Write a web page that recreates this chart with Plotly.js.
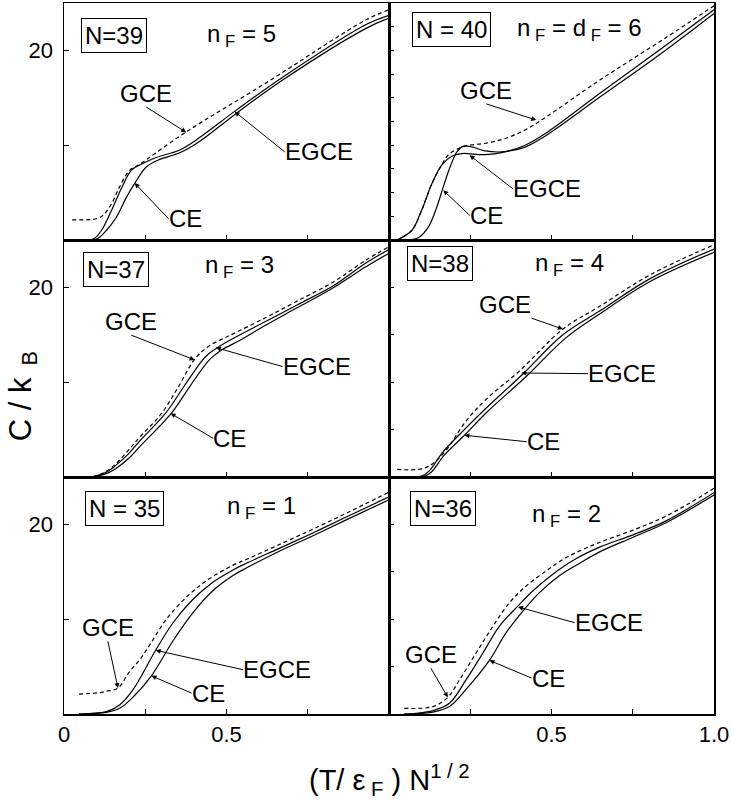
<!DOCTYPE html>
<html>
<head>
<meta charset="utf-8">
<script src="https://cdn.plot.ly/plotly-3.0.1.min.js"></script>
<style>
  html, body { margin: 0; padding: 0; background: #fff; }
  #chart { width: 732px; height: 805px; }
</style>
</head>
<body>
<div id="chart"></div>
<script>
// C/kB against (T/eF) N^1/2
// N = 39, nF = 5
let tGce39 = [0.025, 0.1, 0.12, 0.146, 0.171, 0.202, 0.233, 0.376, 0.623, 0.928, 1.0];
let cGce39 = [2.13, 2.24, 2.6, 3.8, 5.6, 7.35, 8.0, 11.4, 16.6, 23.2, 24.3];
let tEgce39 = [0.025, 0.09, 0.115, 0.146, 0.176, 0.207, 0.238, 0.284, 0.356, 0.417, 0.53, 0.674, 0.928, 1.0];
let cEgce39 = [0, 0.1, 1.0, 3.1, 5.4, 7.35, 8.0, 8.7, 9.5, 10.8, 13.7, 17.2, 22.7, 23.7];
let tCe39 = [0.025, 0.1, 0.13, 0.161, 0.192, 0.217, 0.253, 0.294, 0.356, 0.417, 0.53, 0.674, 0.928, 1.0];
let cCe39 = [0, 0.1, 1.0, 2.4, 4.5, 5.94, 7.7, 8.5, 9.2, 10.4, 13.35, 16.9, 22.3, 23.4];

// N = 40, nF = dF = 6
let tGce40 = [0.025, 0.07, 0.1, 0.132, 0.162, 0.183, 0.234, 0.296, 0.357, 0.419, 0.48, 0.65, 0.85, 1.0];
let cGce40 = [0, 1.0, 3.1, 5.95, 7.9, 9.0, 9.9, 10.2, 10.7, 11.6, 12.9, 16.9, 21.3, 24.7];
let tEgce40 = [0.025, 0.07, 0.1, 0.132, 0.162, 0.193, 0.224, 0.296, 0.357, 0.419, 0.48, 0.65, 0.85, 1.0];
let cEgce40 = [0, 1.0, 3.1, 5.95, 7.9, 8.84, 9.12, 9.0, 9.3, 10.0, 11.2, 15.5, 20.5, 24.3];
let tCe40 = [0.025, 0.09, 0.121, 0.147, 0.167, 0.188, 0.209, 0.229, 0.255, 0.296, 0.347, 0.419, 0.48, 0.65, 0.85, 1.0];
let cCe40 = [0, 0.23, 1.35, 3.47, 5.6, 7.7, 9.3, 9.9, 9.82, 9.4, 9.3, 9.8, 10.95, 15.1, 20.0, 23.9];

// N = 37, nF = 3
let tGce37 = [0.025, 0.09, 0.13, 0.16, 0.2, 0.233, 0.3, 0.35, 0.397, 0.42, 0.45, 0.49, 0.52, 0.62, 0.72, 0.83, 0.93, 1.0];
let cGce37 = [0, 0.05, 0.6, 1.4, 2.9, 4.2, 6.7, 9.4, 12.2, 13.1, 13.9, 14.6, 15.1, 16.8, 18.6, 20.6, 22.9, 24.3];
let tEgce37 = [0.025, 0.09, 0.13, 0.16, 0.2, 0.233, 0.312, 0.37, 0.423, 0.445, 0.47, 0.52, 0.62, 0.72, 0.83, 0.93, 1.0];
let cEgce37 = [0, 0.05, 0.5, 1.25, 2.5, 3.8, 6.7, 9.6, 12.2, 13.0, 13.6, 14.6, 16.4, 18.2, 20.2, 22.6, 24.0];
let tCe37 = [0.025, 0.09, 0.13, 0.16, 0.2, 0.233, 0.33, 0.39, 0.443, 0.465, 0.49, 0.54, 0.62, 0.72, 0.83, 0.93, 1.0];
let cCe37 = [0, 0.03, 0.35, 0.9, 2.0, 3.2, 6.7, 9.7, 12.2, 12.9, 13.5, 14.4, 16.0, 17.9, 20.0, 22.2, 23.6];

// N = 38, nF = 4
let tGce38 = [0.025, 0.1, 0.135, 0.176, 0.237, 0.299, 0.402, 0.535, 0.648, 0.802, 1.0];
let cGce38 = [0.8, 0.85, 1.43, 2.84, 5.9, 8.2, 11.2, 15.6, 18.0, 21.3, 24.5];
let tEgce38 = [0.025, 0.1, 0.124, 0.165, 0.232, 0.3, 0.412, 0.535, 0.648, 0.802, 1.0];
let cEgce38 = [0, 0.1, 0.65, 2.6, 5.0, 7.3, 10.87, 15.0, 17.5, 20.9, 24.05];
let tCe38 = [0.025, 0.11, 0.13, 0.17, 0.232, 0.3, 0.422, 0.545, 0.648, 0.802, 1.0];
let cCe38 = [0, 0.1, 0.5, 2.3, 4.4, 6.8, 10.6, 14.7, 17.2, 20.6, 23.7];

// N = 35, nF = 1
let tGce35 = [0.046, 0.11, 0.13, 0.166, 0.2, 0.233, 0.264, 0.315, 0.376, 0.438, 0.52, 0.561, 0.664, 0.766, 0.87, 1.0];
let cGce35 = [2.09, 2.26, 2.4, 2.73, 4.4, 5.73, 7.3, 10.0, 12.3, 14.05, 15.7, 16.3, 17.9, 19.5, 21.2, 23.4];
let tEgce35 = [0.046, 0.13, 0.171, 0.212, 0.282, 0.335, 0.397, 0.458, 0.52, 0.561, 0.664, 0.766, 0.87, 1.0];
let cEgce35 = [0, 0.25, 0.96, 2.55, 6.72, 9.6, 12.1, 13.9, 15.2, 15.9, 17.5, 19.1, 20.8, 22.9];
let tCe35 = [0.046, 0.13, 0.171, 0.212, 0.269, 0.335, 0.397, 0.458, 0.52, 0.561, 0.664, 0.766, 0.87, 1.0];
let cCe35 = [0, 0.18, 0.6, 1.77, 4.03, 7.7, 10.7, 13.0, 14.6, 15.4, 17.2, 18.8, 20.5, 22.6];

// N = 36, nF = 2
let tGce36 = [0.047, 0.135, 0.181, 0.217, 0.268, 0.32, 0.371, 0.422, 0.484, 0.545, 0.648, 0.751, 0.854, 1.0];
let cGce36 = [0.6, 0.78, 1.77, 3.6, 6.44, 9.27, 11.75, 13.5, 15.1, 16.5, 18.1, 19.4, 20.9, 23.8];
let tEgce36 = [0.047, 0.083, 0.135, 0.186, 0.237, 0.289, 0.34, 0.397, 0.443, 0.504, 0.566, 0.648, 0.751, 0.854, 1.0];
let cEgce36 = [0, 0.07, 0.35, 1.13, 3.6, 6.44, 9.27, 11.4, 13.0, 14.75, 16.2, 17.6, 18.9, 20.4, 23.35];
let tCe36 = [0.047, 0.135, 0.186, 0.237, 0.309, 0.36, 0.412, 0.463, 0.525, 0.587, 0.648, 0.751, 0.854, 1.0];
let cCe36 = [0, 0.2, 0.78, 2.6, 5.66, 8.56, 10.86, 12.8, 14.6, 15.9, 17.1, 18.65, 20.2, 23.1];

let font = 'Liberation Sans, Arial, sans-serif';

function curve(t, c, n, dashed) {
  let sfx = n === 1 ? '' : n;
  return {
    x: t, y: c, xaxis: 'x' + sfx, yaxis: 'y' + sfx,
    type: 'scatter', mode: 'lines', hoverinfo: 'skip',
    line: { color: 'black', width: 1.2, shape: 'spline', dash: dashed ? '4px,3px' : 'solid' }
  };
}

let data = [
  curve(tGce39, cGce39, 1, true), curve(tEgce39, cEgce39, 1), curve(tCe39, cCe39, 1),
  curve(tGce40, cGce40, 2, true), curve(tEgce40, cEgce40, 2), curve(tCe40, cCe40, 2),
  curve(tGce37, cGce37, 3, true), curve(tEgce37, cEgce37, 3), curve(tCe37, cCe37, 3),
  curve(tGce38, cGce38, 4, true), curve(tEgce38, cEgce38, 4), curve(tCe38, cCe38, 4),
  curve(tGce35, cGce35, 5, true), curve(tEgce35, cEgce35, 5), curve(tCe35, cCe35, 5),
  curve(tGce36, cGce36, 6, true), curve(tEgce36, cEgce36, 6), curve(tCe36, cCe36, 6)
];

let layout = {
  width: 732, height: 805,
  margin: { l: 64, r: 18, t: 3, b: 91 },
  paper_bgcolor: 'white', plot_bgcolor: 'white',
  showlegend: false,
  font: { family: font, size: 22, color: 'black' },
  annotations: []
};

let xDom = [[0, 0.5], [0.5, 1]];
let yDom = [[2 / 3, 1], [1 / 3, 2 / 3], [0, 1 / 3]];
let minorTicks = { ticks: 'inside', ticklen: 5, tickcolor: 'black', showgrid: false };

for (let i = 1; i <= 6; i++) {
  let col = (i - 1) % 2, row = Math.floor((i - 1) / 2);
  let sfx = i === 1 ? '' : i;
  let xa = {
    domain: xDom[col], range: [0, 1], anchor: 'y' + sfx,
    showline: true, mirror: true, linecolor: 'black', linewidth: 1.5,
    ticks: 'inside', ticklen: 5, tickcolor: 'black',
    showgrid: false, zeroline: false,
    tickvals: [0.25, 0.5, 0.75], showticklabels: false,
    tickfont: { size: 22 }
  };
  if (row === 2) {
    xa.showticklabels = true;
    xa.tickvals = col === 0 ? [0, 0.5] : [0.5, 1.0];
    xa.ticktext = col === 0 ? ['0', '0.5'] : ['0.5', '1.0'];
    xa.minor = Object.assign({ tickvals: [0.25, 0.75] }, minorTicks);
  }
  let ya = {
    domain: yDom[row], range: [0, 25], anchor: 'x' + sfx,
    showline: true, mirror: true, linecolor: 'black', linewidth: 1.5,
    ticks: 'inside', ticklen: 5, tickcolor: 'black',
    showgrid: false, zeroline: false,
    tickfont: { size: 22 }
  };
  if (col === 0) {
    ya.tickvals = [20];
    ya.ticktext = ['20'];
    ya.ticklabelstandoff = 5;
    ya.minor = Object.assign({ tickvals: [10] }, minorTicks);
  } else {
    ya.tickvals = i === 2 ? [2.5, 5, 7.5, 10, 12.5, 15, 17.5, 20, 22.5] : [5, 10, 15, 20];
    ya.showticklabels = false;
  }
  layout['xaxis' + sfx] = xa;
  layout['yaxis' + sfx] = ya;
}

function label(n, text, x, y, boxed) {
  let sfx = n === 1 ? '' : n;
  let a = {
    xref: 'x' + sfx, yref: 'y' + sfx, x: x, y: y, text: text,
    showarrow: false, font: { family: font, size: 24, color: 'black' }
  };
  if (boxed) {
    a.bordercolor = 'black';
    a.borderwidth = 1;
    a.borderpad = 3;
  }
  layout.annotations.push(a);
}

// a label whose arrow leaves from one side of its text box and ends on a curve
let textWidth = { 'GCE': 52, 'EGCE': 68, 'CE': 34 };
function pointer(n, text, cx, cy, hx, hy, side) {
  let sfx = n === 1 ? '' : n;
  let half = (textWidth[text] / 2 + 1) / 325;
  let a = {
    xref: 'x' + sfx, yref: 'y' + sfx, axref: 'x' + sfx, ayref: 'y' + sfx,
    x: hx, y: hy, text: text,
    font: { family: font, size: 24, color: 'black' },
    borderpad: 0, borderwidth: 0,
    showarrow: true, arrowhead: 2, arrowsize: 1, arrowwidth: 1, arrowcolor: 'black', standoff: 0
  };
  if (side === 'left') {
    a.xanchor = 'left'; a.yanchor = 'middle';
    a.ax = cx - half; a.ay = cy;
  } else if (side === 'bottom') {
    a.xanchor = 'center'; a.yanchor = 'bottom';
    a.ax = cx; a.ay = cy - 13.6 / 9.45;
  } else {
    a.xanchor = 'right'; a.yanchor = 'bottom';
    a.ax = cx + half; a.ay = cy - 13.6 / 9.45;
  }
  layout.annotations.push(a);
}

// N = 39
label(1, 'N=39', 0.153, 21.6, true);
label(1, 'n<sub> F</sub> = 5', 0.547, 21.6);
pointer(1, 'GCE', 0.253, 15.47, 0.376, 11.35, 'bottom');
pointer(1, 'EGCE', 0.787, 9.29, 0.525, 13.55, 'left');
pointer(1, 'CE', 0.377, 2.24, 0.2175, 6.0, 'left');
// N = 40
label(2, 'N = 40', 0.191, 22.25, true);
label(2, 'n<sub> F</sub> = d<sub> F</sub> = 6', 0.586, 22.2);
pointer(2, 'GCE', 0.299, 15.8, 0.453, 12.65, 'bottom');
pointer(2, 'EGCE', 0.489, 5.4, 0.248, 8.94, 'left');
pointer(2, 'CE', 0.304, 2.59, 0.167, 5.24, 'left');
// N = 37
label(3, 'N=37', 0.159, 21.9, true);
label(3, 'n<sub> F</sub> = 3', 0.54, 22.2);
pointer(3, 'GCE', 0.207, 16.4, 0.402, 12.35, 'bottom');
pointer(3, 'EGCE', 0.78, 11.65, 0.467, 13.65, 'left');
pointer(3, 'CE', 0.515, 4.07, 0.328, 6.71, 'left');
// N = 38
label(4, 'N=38', 0.158, 22.5, true);
label(4, 'n<sub> F</sub> = 4', 0.556, 22.4);
pointer(4, 'GCE', 0.355, 18.2, 0.535, 15.6, 'bottomright');
pointer(4, 'EGCE', 0.72, 10.9, 0.407, 10.97, 'left');
pointer(4, 'CE', 0.479, 3.72, 0.232, 4.4, 'left');
// N = 35
label(5, 'N = 35', 0.185, 21.66, true);
label(5, 'n<sub> F</sub> = 1', 0.607, 21.8);
pointer(5, 'GCE', 0.135, 9.1, 0.166, 2.73, 'bottom');
pointer(5, 'EGCE', 0.659, 4.67, 0.282, 6.72, 'left');
pointer(5, 'CE', 0.448, 2.2, 0.269, 4.03, 'left');
// N = 36
label(6, 'N=36', 0.166, 21.66, true);
label(6, 'n<sub> F</sub> = 2', 0.545, 20.95);
pointer(6, 'GCE', 0.129, 6.26, 0.181, 1.77, 'bottom');
pointer(6, 'EGCE', 0.679, 9.63, 0.397, 11.3, 'left');
pointer(6, 'CE', 0.494, 3.79, 0.309, 5.66, 'left');

// axis titles shared by the grid
layout.annotations.push({
  xref: 'paper', yref: 'paper', x: 0.5, y: -0.093, xanchor: 'center', yanchor: 'middle',
  text: '(T/ ε<sub> F</sub> ) N<sup>1 / 2</sup>', showarrow: false,
  font: { family: font, size: 29, color: 'black' }
});
layout.annotations.push({
  xref: 'paper', yref: 'paper', x: -0.063, y: 0.447, xanchor: 'center', yanchor: 'middle',
  text: 'C / k<sub>\u00a0 B</sub>', textangle: -90, showarrow: false,
  font: { family: font, size: 31, color: 'black' }
});

Plotly.newPlot('chart', data, layout, { staticPlot: true });
</script>
</body>
</html>
